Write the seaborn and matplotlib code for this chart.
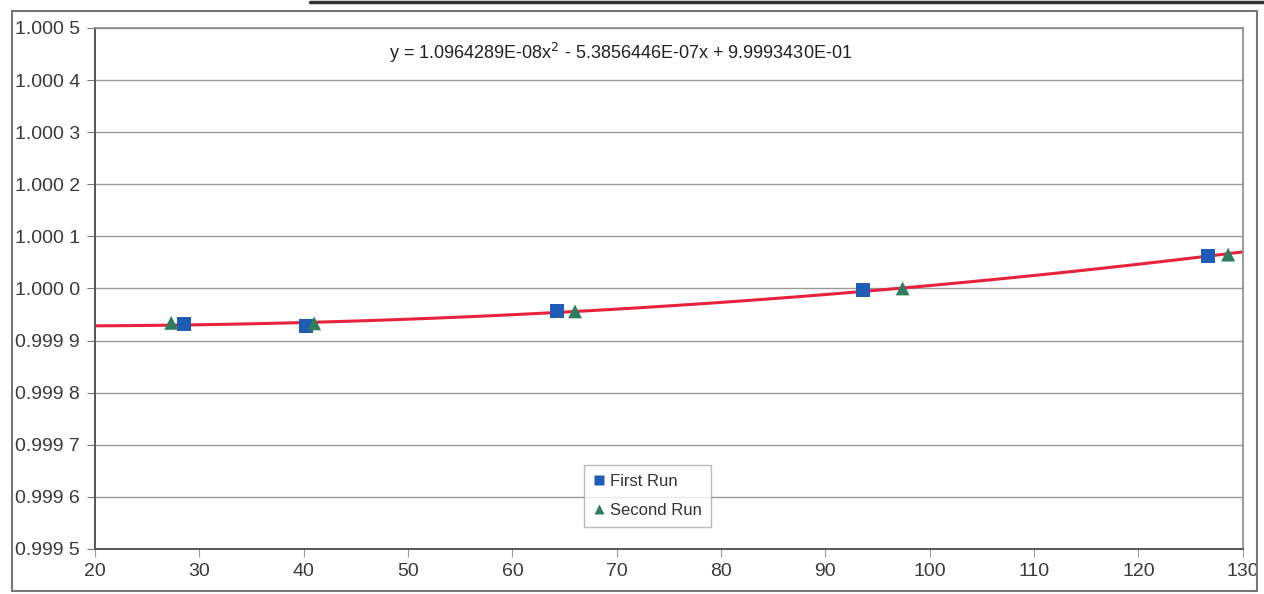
import numpy as np
import pandas as pd
import matplotlib
matplotlib.use("Agg")
import matplotlib.pyplot as plt
import matplotlib.patches as patches
import matplotlib.ticker as mticker
import seaborn as sns

# values
first_x = [28.5, 40.2, 64.3, 93.6, 126.7]
first_y = [0.999931, 0.999928, 0.999956, 0.999997, 1.000063]
second_x = [27.3, 41.0, 66.0, 97.4, 128.6]
second_y = [0.999934, 0.999933, 0.999956, 1.000000, 1.000065]
series_names = ["First Run", "Second Run"]
equation = "y = 1.0964289E-08x$^{2}$ - 5.3856446E-07x + 9.9993430E-01"

x_ticks = list(range(20, 131, 10))
y_ticks = [0.9995, 0.9996, 0.9997, 0.9998, 0.9999, 1.0000, 1.0001, 1.0002, 1.0003, 1.0004, 1.0005]

df = pd.DataFrame({
    "x": first_x + second_x,
    "y": first_y + second_y,
    "run": [series_names[0]] * len(first_x) + [series_names[1]] * len(second_x),
})

sns.set_style("white")
plt.rcParams["font.family"] = ["Liberation Sans", "DejaVu Sans"]

fig = plt.figure(figsize=(12.64, 5.94), dpi=100)
ax = fig.add_axes([0.0752, 0.0758, 0.908, 0.8772])

ax.set_xlim(20, 130)
ax.set_ylim(0.9995, 1.0005)

# quadratic trendline fitted to both runs
sns.regplot(data=df, x="x", y="y", order=2, ci=None, scatter=False, truncate=False,
            line_kws={"color": "#e8223c", "lw": 2.2, "zorder": 2}, ax=ax)

sns.scatterplot(data=df, x="x", y="y", hue="run", style="run",
                markers={"First Run": "s", "Second Run": "^"},
                palette={"First Run": "#1f5cb5", "Second Run": "#2e7d5e"},
                s=100, edgecolor="none", zorder=3, ax=ax)

ax.set_xticks(x_ticks)
ax.set_yticks(y_ticks)
ax.yaxis.set_major_formatter(mticker.FuncFormatter(
    lambda v, p: f"{v:.4f}"[:5] + " " + f"{v:.4f}"[5:]))
ax.tick_params(axis="both", labelsize=14, length=6, width=0.8,
               direction="out", left=True, bottom=True, labelcolor="#3a3a3a")
ax.tick_params(axis="y", pad=5, color="#777777")
ax.tick_params(axis="x", pad=4, color="#999999")
ax.grid(axis="y", color="#9a9a9a", lw=1.0)
ax.set_axisbelow(True)
ax.set_xlabel("")
ax.set_ylabel("")
for side in ["top", "right"]:
    ax.spines[side].set_color("#8a8a8a")
    ax.spines[side].set_linewidth(1.2)
for side in ["left", "bottom"]:
    ax.spines[side].set_color("#555555")
    ax.spines[side].set_linewidth(1.4)

ax.text(0.458, 0.952, equation, transform=ax.transAxes, ha="center", va="center",
        fontsize=13, color="#222222")

leg = ax.legend(loc="lower left", bbox_to_anchor=(0.426, 0.042), borderaxespad=0,
                fontsize=12, frameon=True, fancybox=False, handletextpad=0.3,
                borderpad=0.55, labelspacing=0.85, handlelength=0.7, markerscale=0.7)
leg.get_frame().set_edgecolor("#aaaaaa")
leg.get_frame().set_linewidth(1.0)
for t in leg.get_texts():
    t.set_color("#333333")

# outer chart border and the scanned rule at the top
fig.patches.append(patches.Rectangle((12 / 1264, 3 / 594), 1245 / 1264, 580 / 594,
                                     transform=fig.transFigure, fill=False,
                                     edgecolor="#777777", lw=1.5))
fig.add_artist(plt.Line2D([310 / 1264, 1.0], [1 - 1.5 / 594, 1 - 1.5 / 594],
                          transform=fig.transFigure, color="#333333", lw=2.5))

fig.savefig("out.png", dpi=100)
